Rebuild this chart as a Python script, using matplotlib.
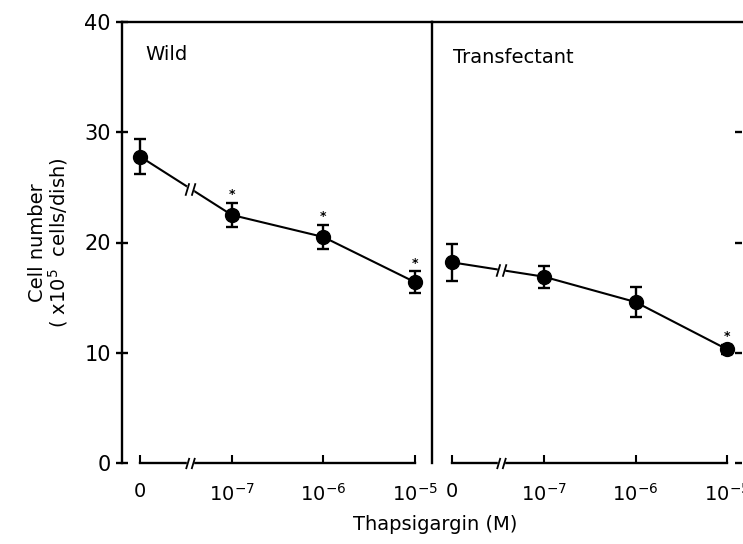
import numpy as np
import matplotlib
matplotlib.use("Agg")
import matplotlib.pyplot as plt
from matplotlib.path import Path

# data (cell number, x10^5 cells/dish)
doses = ["0", "10$^{-7}$", "10$^{-6}$", "10$^{-5}$"]
wild_mean = [27.8, 22.5, 20.5, 16.4]
wild_err = [1.6, 1.1, 1.1, 1.0]
wild_sig = [False, True, True, True]
trans_mean = [18.2, 16.9, 14.6, 10.3]
trans_err = [1.7, 1.0, 1.4, 0.4]
trans_sig = [False, False, False, True]

plt.rcParams["font.family"] = ["DejaVu Sans"]

W, H = 743, 544
fig = plt.figure(figsize=(W / 100, H / 100), dpi=100)

y0, y1 = 463, 22
ax_l = fig.add_axes([122 / W, (H - y0) / H, (432 - 122) / W, (y0 - y1) / H])
ax_r = fig.add_axes([432 / W, (H - y0) / H, (742 - 432) / W, (y0 - y1) / H])
for a in (ax_l, ax_r):
    a.patch.set_visible(False)

# "//" break marker
brk = Path([(-1.6, -2), (-0.4, 2), (0.4, -2), (1.6, 2)],
           [Path.MOVETO, Path.LINETO, Path.MOVETO, Path.LINETO])


def panel(ax, mean, err, sig, xlim, brk_x, title, title_xy):
    x = np.arange(len(mean))
    ax.errorbar(x, mean, yerr=err, fmt="o-", color="black", ms=10, lw=1.5,
                elinewidth=1.7, capsize=4, capthick=1.7, zorder=3)
    for xi, m, e, s in zip(x, mean, err, sig):
        if s:
            ax.text(xi, m + e + 0.15, "*", ha="center", va="bottom", fontsize=9,
                    fontweight="bold")

    # break on the data line
    yb = np.interp(brk_x, x, mean)
    ax.plot([brk_x], [yb], marker="s", ms=5, color="white", mec="white", zorder=4)
    ax.plot([brk_x], [yb], marker=brk, ms=9, color="black", mew=1.3, zorder=5)
    # break on the x axis
    ax.plot([brk_x], [0], marker="s", ms=4, color="white", mec="white",
            zorder=4, clip_on=False)
    ax.plot([brk_x], [0], marker=brk, ms=8, color="black", mew=1.3,
            zorder=5, clip_on=False)

    ax.set_xlim(*xlim)
    ax.set_ylim(0, 40)
    ax.set_xticks(x)
    ax.set_xticklabels(doses, fontsize=14)
    ax.spines["bottom"].set_bounds(0, len(mean) - 1)
    ax.tick_params(axis="x", direction="in", length=6, width=1.5, pad=14)
    for s in ["left", "top", "right", "bottom"]:
        ax.spines[s].set_linewidth(1.7)
    ax.text(title_xy[0], title_xy[1], title, transform=ax.transAxes,
            fontsize=14, ha="left", va="center")


panel(ax_l, wild_mean, wild_err, wild_sig, (-0.196, 3.185), 0.55, "Wild", (0.075, 0.927))
panel(ax_r, trans_mean, trans_err, trans_sig, (-0.218, 3.16), 0.53, "Transfectant", (0.068, 0.92))

ax_l.set_yticks([0, 10, 20, 30, 40])
ax_l.tick_params(axis="y", direction="inout", length=8, width=1.7, labelsize=15, pad=4)
ax_l.set_ylabel("Cell number\n( x10$^5$  cells/dish)", fontsize=14, labelpad=10,
                linespacing=1.0)

ax_r.spines["left"].set_visible(False)
ax_r.spines["right"].set_visible(False)
ax_r.set_yticks([0, 10, 20, 30])
ax_r.yaxis.tick_right()
ax_r.tick_params(axis="y", direction="in", length=5, width=1.7, labelright=False)

fig.text(435 / W, (H - 525) / H, "Thapsigargin (M)", ha="center", va="center",
         fontsize=14)

fig.savefig("out.png", dpi=100)
